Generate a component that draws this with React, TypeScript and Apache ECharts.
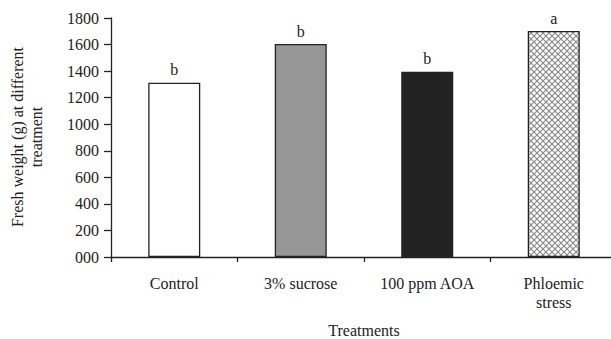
import React, { useEffect, useRef } from "react";
import * as echarts from "echarts";

const categories = ["Control", "3% sucrose", "100 ppm AOA", "Phloemic\nstress"];
const values = [1312, 1604, 1396, 1702];
const letters = ["b", "b", "b", "a"];
const yTicks = [0, 200, 400, 600, 800, 1000, 1200, 1400, 1600, 1800];
const yTitle = "Fresh weight (g) at different\ntreatment";
const xTitle = "Treatments";

function makePattern(): HTMLCanvasElement {
  const c = document.createElement("canvas");
  c.width = 6;
  c.height = 6;
  const ctx = c.getContext("2d")!;
  ctx.fillStyle = "#ffffff";
  ctx.fillRect(0, 0, 6, 6);
  ctx.strokeStyle = "#8a8a8a";
  ctx.lineWidth = 1.2;
  ctx.beginPath();
  ctx.moveTo(0, 0);
  ctx.lineTo(6, 6);
  ctx.moveTo(6, 0);
  ctx.lineTo(0, 6);
  ctx.stroke();
  return c;
}

const FONT = "Liberation Serif";
const richS = { s: { fontFamily: FONT, fontSize: 16, color: "#222", lineHeight: 19 } };
const wrap = (t: string) => t.split("\n").map((p) => `{s|${p}}`).join("\n");

export default function App() {
  const ref = useRef<HTMLDivElement>(null);
  useEffect(() => {
    if (!ref.current) return;
    const chart = echarts.init(ref.current, null, { renderer: "svg" });
    const fills: any[] = [
      "#ffffff",
      "#979797",
      "#222222",
      { image: makePattern(), repeat: "repeat" },
    ];
    chart.setOption({
      animation: false,
      textStyle: { fontFamily: FONT },
      grid: { left: 111, right: 3, top: 18, bottom: 82, containLabel: false, outerBoundsMode: "none" },
      graphic: [
        {
          type: "text",
          x: 27,
          y: 137,
          rotation: Math.PI / 2,
          style: {
            text: yTitle,
            fill: "#222",
            font: `16px ${FONT}`,
            lineHeight: 19,
            align: "center",
            verticalAlign: "middle",
          },
        },
      ],
      xAxis: {
        type: "category",
        data: categories,
        boundaryGap: true,
        axisLine: { lineStyle: { color: "#222", width: 1.3 } },
        axisTick: { show: true, length: 5, lineStyle: { color: "#222", width: 1.3 } },
        axisLabel: {
          color: "#222",
          fontSize: 16,
          margin: 17,
          lineHeight: 19,
          fontFamily: FONT,
          interval: 0,
          formatter: (v: string) => wrap(v),
          rich: richS,
        },
        name: xTitle,
        nameLocation: "middle",
        nameGap: 65,
        nameTextStyle: { color: "#222", fontSize: 16, fontFamily: FONT },
      },
      yAxis: {
        type: "value",
        min: yTicks[0],
        max: yTicks[yTicks.length - 1],
        interval: 200,
        splitLine: { show: false },
        axisLine: { show: true, lineStyle: { color: "#222", width: 1.3 } },
        axisTick: { show: true, length: 7, lineStyle: { color: "#222", width: 1.3 } },
        axisLabel: {
          color: "#222",
          fontSize: 16,
          margin: 12,
          fontFamily: FONT,
          formatter: (v: number) => wrap(v === 0 ? "000" : String(v)),
          rich: richS,
        },
      },
      series: [
        {
          type: "bar",
          barWidth: 52,
          data: values.map((v, i) => ({
            value: v,
            itemStyle: { color: fills[i], borderColor: "#222", borderWidth: 1.3 },
            label: {
              show: true,
              position: "top",
              distance: 5,
              formatter: letters[i],
              color: "#222",
              fontSize: 16,
              fontFamily: FONT,
            },
          })),
        },
      ],
    });
    return () => chart.dispose();
  }, []);
  return (
    <div
      ref={ref}
      style={{ position: "fixed", left: 0, top: 0, width: 620, height: 339, background: "#fff" }}
    />
  );
}
